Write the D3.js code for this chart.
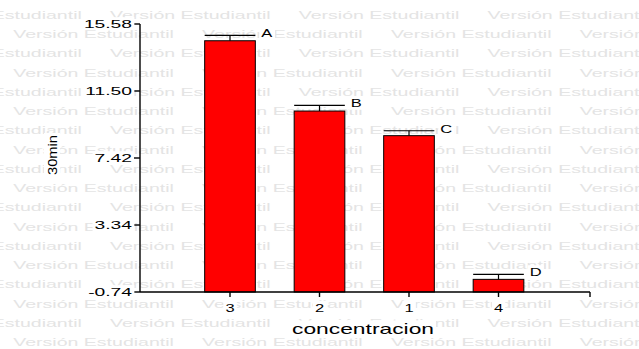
<!DOCTYPE html>
<html>
<head>
<meta charset="utf-8">
<script src="https://cdn.jsdelivr.net/npm/d3@7"></script>
<style>
  html, body { margin: 0; padding: 0; background: #fff; }
  svg { display: block; }
</style>
</head>
<body>
<script>
// Group means with SEM error bars and significance letters
const categories = ["3", "2", "1", "4"];
const means = [14.56, 10.28, 8.78, 0.03];
const sems = [0.33, 0.34, 0.30, 0.30];
const groupLetters = ["A", "B", "C", "D"];
const yTicks = [-0.74, 3.34, 7.42, 11.50, 15.58];
const yTickLabels = ["-0.74", "3.34", "7.42", "11.50", "15.58"];
const yTitle = "30min";
const xTitle = "concentracion";
const watermarkText = "Versión Estudiantil";

const W = 639, H = 349;
const FONT = "'Liberation Sans', Arial, sans-serif";

const svg = d3.select("body").append("svg")
  .attr("width", W).attr("height", H);

svg.append("rect").attr("width", W).attr("height", H).attr("fill", "#fff");

const plotLeft = 140, plotRight = 590, plotTop = 24, plotBottom = 292;

const y = d3.scaleLinear()
  .domain([yTicks[0], yTicks[yTicks.length - 1]])
  .range([plotBottom, plotTop]);

const x = d3.scaleBand()
  .domain(categories)
  .range([185.25, 543.25])
  .paddingInner(0.434)
  .paddingOuter(0.217);

// Text drawn with a horizontal stretch; optional white knockout box behind it
function stretchedText(parent, str, opt) {
  const g = parent.append("g")
    .attr("transform", `translate(${opt.x},${opt.y})` +
      (opt.rotate ? ` rotate(${opt.rotate})` : "") +
      ` scale(${opt.sx || 1},1)`);
  const t = g.append("text")
    .attr("x", 0).attr("y", 0)
    .attr("text-anchor", opt.anchor || "start")
    .attr("font-family", FONT)
    .attr("font-size", opt.size)
    .attr("fill", opt.fill || "#000")
    .text(str);
  if (opt.length) {
    t.attr("textLength", opt.length).attr("lengthAdjust", "spacingAndGlyphs");
  }
  if (opt.knock) {
    const b = t.node().getBBox();
    const px = (opt.knock) / (opt.sx || 1);
    g.insert("rect", "text")
      .attr("x", b.x - px).attr("y", b.y - 1)
      .attr("width", b.width + 2 * px).attr("height", b.height + 1)
      .attr("fill", "#fff");
  }
  return g;
}

// Repeating watermark rows
const wm = svg.append("g");
const rowCount = 18, rowGap = 19.24, period = 188.8;
for (let i = 0; i < rowCount; i++) {
  const base = 19 + rowGap * i;
  const start = (i % 2 === 1) ? 13.3 : 110 - period;
  for (let xs = start; xs < W; xs += period) {
    stretchedText(wm, watermarkText, {
      x: xs, y: base, size: 11.5, sx: 1.7, fill: "#e4e4e4"
    });
  }
}

// Bars start at the bottom of the value axis
const bars = svg.append("g");
bars.selectAll("rect")
  .data(categories)
  .join("rect")
  .attr("x", (d) => x(d))
  .attr("width", x.bandwidth())
  .attr("y", (d, i) => y(means[i]))
  .attr("height", (d, i) => y(yTicks[0]) - y(means[i]))
  .attr("fill", "#ff0000")
  .attr("stroke", "#000")
  .attr("stroke-width", 1);

// Error bars (upper side only)
const err = svg.append("g").attr("stroke", "#000").attr("stroke-width", 1.2);
categories.forEach((c, i) => {
  const cx = x(c) + x.bandwidth() / 2;
  err.append("line")
    .attr("x1", cx).attr("x2", cx)
    .attr("y1", y(means[i])).attr("y2", y(means[i] + sems[i]));
  err.append("line")
    .attr("x1", x(c)).attr("x2", x(c) + x.bandwidth())
    .attr("y1", y(means[i] + sems[i])).attr("y2", y(means[i] + sems[i]));
});

// Axes
const axes = svg.append("g").attr("stroke", "#000").attr("stroke-width", 1.4)
  .attr("fill", "none");
axes.append("line").attr("x1", plotLeft).attr("x2", plotLeft)
  .attr("y1", y(yTicks[yTicks.length - 1])).attr("y2", plotBottom);
axes.append("line").attr("x1", plotLeft).attr("x2", plotRight)
  .attr("y1", plotBottom).attr("y2", plotBottom);
yTicks.forEach((v) => {
  axes.append("line").attr("x1", plotLeft - 6).attr("x2", plotLeft)
    .attr("y1", y(v)).attr("y2", y(v));
});
categories.forEach((c) => {
  const cx = x(c) + x.bandwidth() / 2;
  axes.append("line").attr("x1", cx).attr("x2", cx)
    .attr("y1", plotBottom).attr("y2", plotBottom + 5);
});
axes.append("line").attr("x1", plotRight).attr("x2", plotRight)
  .attr("y1", plotBottom).attr("y2", plotBottom + 5);

// Labels
const labels = svg.append("g");
yTicks.forEach((v, i) => {
  stretchedText(labels, yTickLabels[i], {
    x: 132, y: y(v) + 4, size: 11, sx: 1.75, anchor: "end", knock: 2
  });
});
categories.forEach((c) => {
  stretchedText(labels, c, {
    x: x(c) + x.bandwidth() / 2, y: 312, size: 11, sx: 1.5,
    anchor: "middle", knock: 2
  });
});
categories.forEach((c, i) => {
  stretchedText(labels, groupLetters[i], {
    x: x(c) + x.bandwidth() + 6, y: y(means[i] + sems[i]) + 2,
    size: 11, sx: 1.5, knock: 2
  });
});
stretchedText(labels, xTitle, {
  x: 363, y: 334, size: 14, sx: 1.63, anchor: "middle", knock: 2
});
stretchedText(labels, yTitle, {
  x: 57, y: 155, size: 13.5, length: 40, anchor: "middle", rotate: -90, knock: 2
});
</script>
</body>
</html>
